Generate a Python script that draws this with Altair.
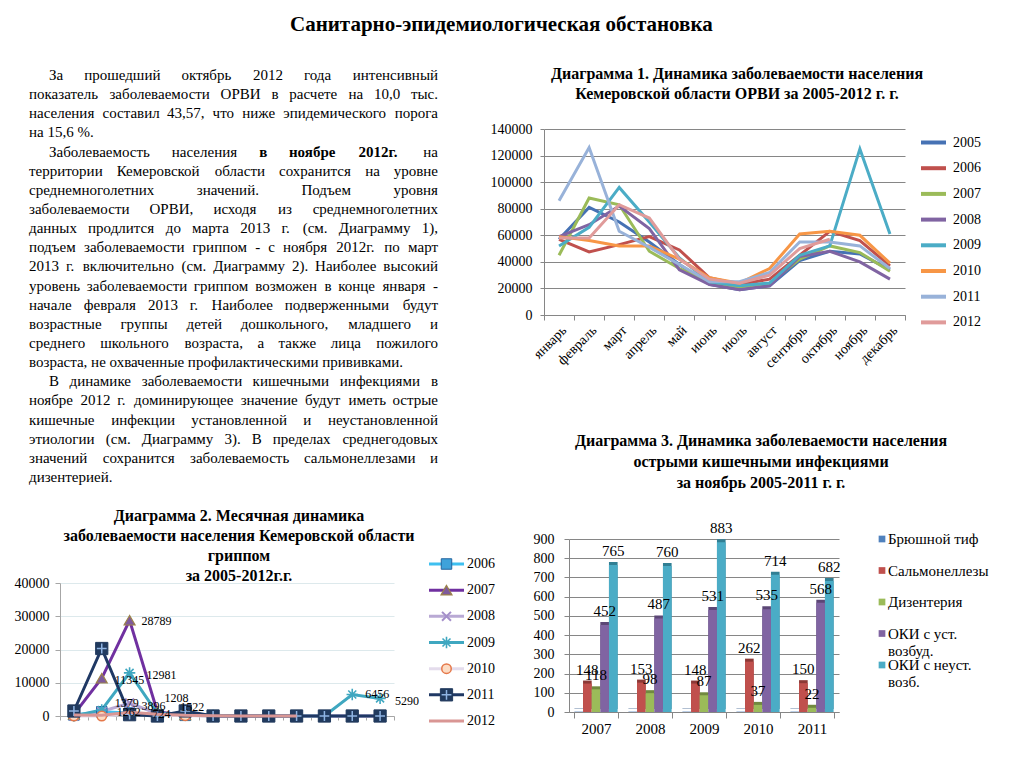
import altair as alt
import pandas as pd

FONT = "Liberation Serif"

# ------------------------------------------------------------------ data
months = ["январь", "февраль", "март", "апрель", "май", "июнь", "июль",
          "август", "сентябрь", "октябрь", "ноябрь", "декабрь"]

# Diagram 1: ARVI by month
orvi_years = ["2005", "2006", "2007", "2008", "2009", "2010", "2011", "2012"]
orvi_2005 = [57000, 81000, 70000, 55000, 38000, 23000, 19000, 22000, 41000, 48000, 46000, 34000]
orvi_2006 = [57000, 47500, 53000, 59000, 49000, 28000, 23000, 27000, 45000, 63000, 56000, 37000]
orvi_2007 = [45000, 88000, 83000, 48000, 35000, 25000, 21000, 24000, 42000, 52000, 47000, 33000]
orvi_2008 = [59000, 68000, 82000, 65000, 34000, 23000, 19000, 22000, 44000, 48000, 40000, 27000]
orvi_2009 = [52000, 66000, 96000, 70000, 43000, 25000, 22000, 24000, 45000, 52000, 125000, 61000]
orvi_2010 = [59000, 56000, 52000, 52000, 42000, 28000, 24000, 35000, 61000, 63000, 60000, 39000]
orvi_2011 = [86000, 126000, 63000, 51000, 38000, 25000, 25000, 32000, 55000, 55000, 52000, 35000]
orvi_2012 = [58000, 58000, 83000, 73000, 42000, 27000, 24000, 30000, 50000, 57000]
orvi_series = [orvi_2005, orvi_2006, orvi_2007, orvi_2008, orvi_2009, orvi_2010, orvi_2011, orvi_2012]
orvi_colors = ["#4672B4", "#C0504D", "#9BBB59", "#8064A2", "#4BACC6", "#F79646", "#98B2D9", "#E09B9A"]

# Diagram 2: influenza by month
flu_years = ["2006", "2007", "2008", "2009", "2010", "2011", "2012"]
flu_2006 = [300, 1262, 900, 400, 200, 100, 0, 0, 0, 0, 0, 0]
flu_2007 = [500, 11345, 28789, 1208, 300, 100, 0, 0, 0, 0, 0, 0]
flu_2008 = [0, 1379, 3896, 700, 200, 0, 0, 0, 0, 0, 0, 0]
flu_2009 = [0, 1800, 12981, 724, 500, 200, 0, 0, 0, 0, 6456, 5290]
flu_2010 = [0, 0, 500, 300, 100, 0, 0, 0, 0, 0, 0, 0]
flu_2011 = [1500, 20300, 400, 0, 1522, 0, 0, 0, 0, 0, 0, 0]
flu_2012 = [300, 200, 1100, 500, 200, 100, 0, 0, 0]
flu_series = [flu_2006, flu_2007, flu_2008, flu_2009, flu_2010, flu_2011, flu_2012]
flu_line_colors = ["#3FC0F0", "#7030A0", "#B9A9D4", "#3FA7C0", "#E4DCEC", "#1F3864", "#D99694"]
# which points carry a value label
flu_label_year = ["2007", "2007", "2009", "2009", "2009", "2008", "2008", "2007", "2011", "2006", "2009"]
flu_label_month = [1, 2, 2, 10, 11, 1, 2, 3, 4, 1, 3]
# label nudges (style)
flu_label_dx = [13, 12, 17, 13, 15, 13, 12, 7, -5, 15, -5]
flu_label_dy = [2, 1, 2, -1, 3, -8, 3, -14, -4, 0, 0]

# Diagram 3: intestinal infections, November
oki_years = ["2007", "2008", "2009", "2010", "2011"]
oki_cats = ["Брюшной тиф", "Сальмонеллезы", "Дизентерия", "ОКИ с уст. возбуд.", "ОКИ с неуст. возб."]
oki_legend = ["Брюшной тиф", "Сальмонеллезы", "Дизентерия", "ОКИ с уст.\nвозбуд.", "ОКИ с неуст.\nвозб."]
typhoid = [2, 2, 2, 2, 2]
salmonella = [148, 153, 148, 262, 150]
dysentery = [118, 98, 87, 37, 22]
oki_known = [452, 487, 531, 535, 568]
oki_unknown = [765, 760, 883, 714, 682]
oki_series = [typhoid, salmonella, dysentery, oki_known, oki_unknown]
oki_colors = ["#4F81BD", "#C0504D", "#9BBB59", "#8064A2", "#4BACC6"]
oki_dark = ["#385D8A", "#8C3836", "#71893F", "#5C4776", "#317F94"]

# Texts
main_title = "Санитарно-эпидемиологическая обстановка"
title1 = ["Диаграмма 1. Динамика заболеваемости населения",
          "Кемеровской области  ОРВИ за 2005-2012 г. г."]
title2 = ["Диаграмма 2. Месячная динамика",
          "заболеваемости населения Кемеровской области",
          "гриппом",
          "за 2005-2012г.г."]
title3 = ["Диаграмма 3. Динамика заболеваемости  населения",
          "острыми кишечными инфекциями",
          "за ноябрь 2005-2011 г. г."]
text_lines = [
    "За прошедший октябрь 2012 года интенсивный",
    "показатель заболеваемости ОРВИ в расчете на 10,0 тыс.",
    "населения составил 43,57, что ниже эпидемического порога",
    "на 15,6 %.",
    "Заболеваемость населения в ноябре 2012г. на",
    "территории Кемеровской области сохранится на уровне",
    "среднемноголетних значений. Подъем уровня",
    "заболеваемости ОРВИ, исходя из среднемноголетних",
    "данных продлится до марта 2013 г. (см. Диаграмму 1),",
    "подъем заболеваемости гриппом - с ноября 2012г. по март",
    "2013 г. включительно (см. Диаграмму 2). Наиболее высокий",
    "уровень заболеваемости гриппом возможен в конце января -",
    "начале февраля 2013 г. Наиболее подверженными будут",
    "возрастные группы детей дошкольного, младшего и",
    "среднего школьного возраста, а также лица пожилого",
    "возраста, не охваченные профилактическими прививками.",
    "В динамике заболеваемости кишечными инфекциями в",
    "ноябре 2012 г. доминирующее значение будут иметь острые",
    "кишечные инфекции установленной и неустановленной",
    "этиологии (см. Диаграмму 3). В пределах среднегодовых",
    "значений сохранится заболеваемость сальмонеллезами и",
    "дизентерией.",
]
indent_lines = [0, 4, 16]
last_lines = [3, 15, 21]
bold_line = 4
bold_words = ["в", "ноябре", "2012г."]

# ------------------------------------------------------------------ text layout (justified)
FS = 15
CW = {' ': 250, '.': 250, ',': 250, '(': 333, ')': 333, '-': 333, '%': 833, ':': 278,
      'а': 444, 'б': 500, 'в': 472, 'г': 410, 'д': 500, 'е': 444, 'ж': 691, 'з': 395, 'и': 535,
      'й': 535, 'к': 486, 'л': 500, 'м': 633, 'н': 535, 'о': 500, 'п': 535, 'р': 500, 'с': 444,
      'т': 437, 'у': 500, 'ф': 648, 'х': 500, 'ц': 535, 'ч': 503, 'ш': 770, 'щ': 770, 'ъ': 517,
      'ы': 672, 'ь': 456, 'э': 429, 'ю': 747, 'я': 486,
      'А': 722, 'Б': 574, 'В': 667, 'Г': 578, 'Д': 682, 'Е': 611, 'З': 501, 'И': 722, 'К': 667,
      'Л': 678, 'М': 889, 'Н': 722, 'О': 722, 'П': 722, 'Р': 556, 'С': 667, 'Т': 611, 'У': 616,
      'Ф': 776, 'Х': 722, 'Ч': 667, 'Ш': 1010, 'Э': 667, 'Ю': 1040, 'Я': 668}


def tw(s, bold=False):
    return sum(CW.get(c, 500) for c in s) / 1000.0 * FS * (1.07 if bold else 1.0)


LINE_W = 409
INDENT = 20
trows = []
for i, line in enumerate(text_lines):
    start = INDENT if i in indent_lines else 0
    if i in last_lines:
        trows.append(dict(line=i, x=start, word=line, bold=False, al="left"))
        continue
    words = line.split(" ")
    bolds = [(i == bold_line and w in bold_words) for w in words]
    widths = [tw(w, b) for w, b in zip(words, bolds)]
    gap = (LINE_W - start - sum(widths)) / (len(words) - 1)
    xx = start
    for k, (w, b, wd) in enumerate(zip(words, bolds, widths)):
        if k == len(words) - 1:
            trows.append(dict(line=i, x=LINE_W, word=w, bold=b, al="right"))
        else:
            trows.append(dict(line=i, x=xx, word=w, bold=b, al="left"))
        xx += wd + gap
df_text = pd.DataFrame(trows)

tx = alt.X("x:Q", scale=alt.Scale(domain=[0, LINE_W], range=[-31, 378], nice=False, zero=False), axis=None)
ty = alt.Y("line:Q", scale=alt.Scale(domain=[0, 21], range=[-54, 348], nice=False, zero=False), axis=None)
tbase = alt.Chart(df_text).encode(x=tx, y=ty, text="word:N")
t_left = tbase.transform_filter("datum.al == 'left' && !datum.bold").mark_text(
    font=FONT, fontSize=FS, align="left", baseline="middle", color="black")
t_right = tbase.transform_filter("datum.al == 'right' && !datum.bold").mark_text(
    font=FONT, fontSize=FS, align="right", baseline="middle", color="black")
t_bold = tbase.transform_filter("datum.bold").mark_text(
    font=FONT, fontSize=FS, align="left", baseline="middle", fontWeight="bold", color="black")
text_panel = alt.layer(t_left, t_right, t_bold).properties(width=309, height=186)

# ------------------------------------------------------------------ Diagram 1
rows1 = []
for yr, ser in zip(orvi_years, orvi_series):
    for m, v in zip(months, ser):
        rows1.append(dict(year=yr, month=m, value=v))
df1 = pd.DataFrame(rows1)

chart1 = alt.Chart(df1).mark_line(strokeWidth=3).encode(
    x=alt.X("month:N", bandPosition=0.5,
            scale=alt.Scale(type="band", domain=months, paddingInner=0, paddingOuter=0,
                            range=[-25, 336]),
            axis=alt.Axis(title=None, labelAngle=-45, labelAlign="right", labelBaseline="top",
                          labelFont=FONT, labelFontSize=14, labelPadding=3, tickBand="extent",
                          tickSize=5, domainColor="#868686", tickColor="#868686", grid=False)),
    y=alt.Y("value:Q", scale=alt.Scale(domain=[0, 140000], nice=False),
            axis=alt.Axis(title=None, values=list(range(0, 140001, 20000)), format="d",
                          labelFont=FONT, labelFontSize=14, gridColor="#868686", offset=25,
                          domainColor="#868686", tickColor="#868686", tickSize=4, labelPadding=8)),
    color=alt.Color("year:N", scale=alt.Scale(domain=orvi_years, range=orvi_colors),
                    legend=alt.Legend(title=None, orient="none", legendX=350, legendY=-1,
                                      symbolType="stroke", symbolStrokeWidth=4, symbolSize=625,
                                      labelFont=FONT, labelFontSize=14, rowPadding=2.7,
                                      labelOffset=5)),
).properties(
    width=336, height=186,
    title=alt.TitleParams(title1, font=FONT, fontSize=16, fontWeight="bold", anchor="middle",
                          frame="group", dx=0, offset=20, lineHeight=20),
)

# ------------------------------------------------------------------ Diagram 2
rows2 = []
for yr, ser, lc in zip(flu_years, flu_series, flu_line_colors):
    for m, v in zip(months, ser):
        rows2.append(dict(year=yr, month=m, value=v, lc=lc))
df2 = pd.DataFrame(rows2)

lab_rows = []
for yr, mi in zip(flu_label_year, flu_label_month):
    v = flu_series[flu_years.index(yr)][mi]
    lab_rows.append(dict(year=yr, month=months[mi], value=v, txt=str(v)))
df2lab = pd.DataFrame(lab_rows)

x2scale = alt.Scale(type="band", domain=months, paddingInner=0, paddingOuter=0)
y2scale = alt.Scale(domain=[0, 40000], nice=False, range=[177, 44])
x2 = alt.X("month:N", bandPosition=0.5, scale=x2scale,
           axis=alt.Axis(title=None, labels=False, tickBand="extent", tickSize=4, grid=False,
                         domainColor="#A6A6A6", tickColor="#A6A6A6"))
y2 = alt.Y("value:Q", scale=y2scale,
           axis=alt.Axis(title=None, values=[0, 10000, 20000, 30000, 40000], format="d",
                         labelFont=FONT, labelFontSize=14, gridColor="#DDE9EC",
                         domainColor="#A6A6A6", tickColor="#A6A6A6", tickSize=5, labelPadding=6))

marker_styles = {
    "2006": [dict(shape="square", filled=True, fill="#3FA2DA", stroke="#24649E", strokeWidth=1, size=110)],
    "2007": [dict(shape="triangle-up", filled=True, fill="#7E5A9C", stroke="#9C8248", strokeWidth=1.2, size=120)],
    "2008": [dict(shape="M-1,-1L1,1M-1,1L1,-1", filled=False, stroke="#A48FCA", strokeWidth=2, size=80)],
    "2009": [dict(shape="M-1,0L1,0M0,-1L0,1M-0.7,-0.7L0.7,0.7M-0.7,0.7L0.7,-0.7", filled=False,
                  stroke="#3FA7C0", strokeWidth=1.6, size=130)],
    "2010": [dict(shape="circle", filled=True, fill="#FCDCC4", stroke="#E5784A", strokeWidth=1.5, size=90)],
    "2011": [dict(shape="square", filled=True, fill="#213A5E", stroke="#213A5E", strokeWidth=1, size=150),
             dict(shape="M-0.8,0L0.8,0M0,-0.8L0,0.8", filled=False, stroke="#8FB4E3", strokeWidth=1.5, size=150)],
}

flu_lines = alt.Chart(df2).transform_filter("datum.year != '2012'").mark_line(strokeWidth=3).encode(
    x=x2, y=y2, color=alt.Color("lc:N", scale=None), detail="year:N")
flu_markers = []
for yr in flu_years:
    for st in marker_styles.get(yr, []):
        flu_markers.append(alt.Chart(df2).transform_filter(alt.datum.year == yr)
                           .mark_point(opacity=1, **st).encode(x=x2, y=y2))
flu_2012_line = alt.Chart(df2).transform_filter("datum.year == '2012'").mark_line(
    strokeWidth=3).encode(x=x2, y=y2, color=alt.Color("lc:N", scale=None))
flu_labels = []
for j, (dxx, dyy) in enumerate(zip(flu_label_dx, flu_label_dy)):
    flu_labels.append(alt.Chart(df2lab.iloc[[j]]).mark_text(
        font=FONT, fontSize=12, align="left", baseline="middle", dx=dxx, dy=dyy, color="black"
    ).encode(x=x2, y=y2, text="txt:N"))
flu_main = alt.layer(flu_lines, *flu_markers, flu_2012_line, *flu_labels)

df2leg = pd.DataFrame(dict(year=flu_years, lc=flu_line_colors))
lgx = alt.Scale(domain=[0, 1], range=[369, 404], nice=False, zero=False)
lgy = alt.Y("year:N", scale=alt.Scale(type="point", domain=flu_years, range=[25, 182], padding=0),
            axis=None)
leg2_rule = alt.Chart(df2leg).mark_rule(strokeWidth=3).encode(
    x=alt.X(datum=0, type="quantitative", scale=lgx, axis=None),
    x2=alt.X2(datum=1), y=lgy, color=alt.Color("lc:N", scale=None))
leg2_marks = []
for yr in flu_years:
    for st in marker_styles.get(yr, []):
        leg2_marks.append(alt.Chart(df2leg).transform_filter(alt.datum.year == yr)
                          .mark_point(opacity=1, **st)
                          .encode(x=alt.X(datum=0.5, type="quantitative", scale=lgx, axis=None), y=lgy))
leg2_text = alt.Chart(df2leg).mark_text(font=FONT, fontSize=14, align="left", dx=3,
                                        baseline="middle", color="black").encode(
    x=alt.X(datum=1, type="quantitative", scale=lgx, axis=None), y=lgy, text="year:N")
flu_legend = alt.layer(leg2_rule, *leg2_marks, leg2_text)

chart2 = alt.layer(flu_main, flu_legend).resolve_scale(x="independent", y="independent").properties(
    width=334, height=177,
    title=alt.TitleParams(title2, font=FONT, fontSize=16, fontWeight="bold", anchor="middle",
                          frame="group", dx=12, offset=-45, lineHeight=20),
)

# ------------------------------------------------------------------ Diagram 3
rows3 = []
for cat, ser, c, d in zip(oki_cats, oki_series, oki_colors, oki_dark):
    for yr, v in zip(oki_years, ser):
        rows3.append(dict(year=yr, cat=cat, value=v, col=c, dark=d))
df3 = pd.DataFrame(rows3)

x3 = alt.X("year:N", scale=alt.Scale(type="band", domain=oki_years, paddingInner=0.2, paddingOuter=0.1),
           axis=alt.Axis(title=None, labelAngle=0, labelFont=FONT, labelFontSize=15, labelPadding=3,
                         tickBand="extent", tickSize=6, domainColor="#868686", tickColor="#868686",
                         grid=False))
xo3 = alt.XOffset("cat:N", scale=alt.Scale(domain=oki_cats, paddingInner=0, paddingOuter=0))
y3 = alt.Y("value:Q", scale=alt.Scale(domain=[0, 900], nice=False),
           axis=alt.Axis(title=None, values=list(range(0, 901, 100)), labelFont=FONT, labelFontSize=14,
                         labelOverlap=False, gridColor="#868686", domainColor="#868686",
                         tickColor="#868686", tickSize=5, labelPadding=10))
bars_back = alt.Chart(df3).mark_bar(xOffset=3, yOffset=-3).encode(
    x=x3, xOffset=xo3, y=y3, color=alt.Color("dark:N", scale=None))
bars_front = alt.Chart(df3).mark_bar().encode(
    x=x3, xOffset=xo3, y=y3, color=alt.Color("col:N", scale=None))
bar_labels = alt.Chart(df3).transform_filter(alt.datum.cat != oki_cats[0]).mark_text(
    font=FONT, fontSize=15, dy=-9, baseline="alphabetic", color="black").encode(
    x=x3, xOffset=xo3, y=y3, text="value:Q")
oki_main = alt.layer(bars_back, bars_front, bar_labels)

df3leg = pd.DataFrame(dict(cat=oki_cats, lab=oki_legend, col=oki_colors))
l3x = alt.Scale(domain=[0, 1], range=[313, 319], nice=False, zero=False)
l3y = alt.Y("cat:N", scale=alt.Scale(type="point", domain=oki_cats, range=[0, 126], padding=0), axis=None)
leg3_sq = alt.Chart(df3leg).mark_point(shape="square", filled=True, opacity=1, size=45).encode(
    x=alt.X(datum=0, type="quantitative", scale=l3x, axis=None), y=l3y,
    color=alt.Color("col:N", scale=None))
leg3_txt = alt.Chart(df3leg).mark_text(font=FONT, fontSize=15, align="left", baseline="alphabetic",
                                       dy=5, lineBreak="\n", lineHeight=17, color="black").encode(
    x=alt.X(datum=1, type="quantitative", scale=l3x, axis=None), y=l3y, text="lab:N")
oki_legend_layer = alt.layer(leg3_sq, leg3_txt)

chart3 = alt.layer(oki_main, oki_legend_layer).resolve_scale(x="independent", y="independent").properties(
    width=270, height=173,
    title=alt.TitleParams(title3, font=FONT, fontSize=16, fontWeight="bold", anchor="middle",
                          frame="group", dx=57, offset=30, lineHeight=21),
)

# ------------------------------------------------------------------ layout
chart = alt.concat(
    text_panel, chart1, chart2, chart3,
    columns=2, spacing={"row": 224, "column": 175}, bounds="flush", align="none",
).resolve_scale(
    color="independent"
).properties(
    title=alt.TitleParams(main_title, font=FONT, fontSize=21, fontWeight="bold", anchor="middle",
                          offset=31),
    padding={"left": 6, "top": 6, "right": 5, "bottom": 5},
).configure(font=FONT).configure_view(stroke=None)

chart.save("out.html", embed_options={"renderer": "svg", "actions": False})
